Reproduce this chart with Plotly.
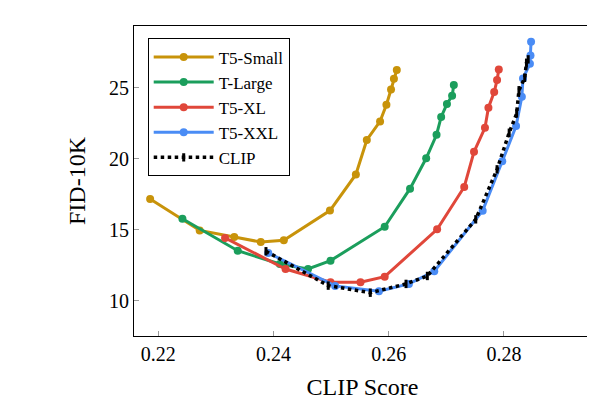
import plotly.graph_objects as go

small_x = [0.2186,0.2272,0.2332,0.2378,0.2418,0.2498,0.2543,0.2562,0.2585,0.2596,0.2604,0.2609,0.2614]
small_y = [17.16,14.95,14.48,14.13,14.25,16.35,18.89,21.32,22.63,23.80,24.88,25.63,26.25]
large_x = [0.2242,0.2338,0.2411,0.2460,0.2499,0.2593,0.2637,0.2665,0.2683,0.2691,0.2701,0.2710,0.2713]
large_y = [15.77,13.52,12.58,12.23,12.82,15.21,17.89,20.03,21.69,22.94,23.85,24.44,25.19]
xl_x = [0.2316,0.2421,0.2499,0.2551,0.2593,0.2684,0.2731,0.2748,0.2767,0.2773,0.2783,0.2788,0.2791]
xl_y = [14.42,12.23,11.30,11.30,11.69,15.03,18.01,20.49,22.18,23.59,24.70,25.54,26.29]
xxl_x = [0.2391,0.2507,0.2583,0.2635,0.2679,0.2763,0.2797,0.2821,0.2831,0.2833,0.2845,0.2846,0.2847]
xxl_y = [13.36,11.04,10.66,11.18,12.07,16.34,19.82,22.30,24.37,25.66,26.69,27.28,28.24]
clip_x = [0.2387,0.2495,0.2568,0.2630,0.2667,0.2751,0.2788,0.2809,0.2822,0.2826,0.2836,0.2839,0.2842]
clip_y = [13.48,11.06,10.56,11.18,11.74,15.73,19.25,21.83,23.19,24.82,25.70,26.76,27.00]

fig = go.Figure()
for name, xs, ys, c in [("T5-Small", small_x, small_y, "#C8930A"),
                        ("T-Large", large_x, large_y, "#1B9E5C"),
                        ("T5-XL", xl_x, xl_y, "#E0473A"),
                        ("T5-XXL", xxl_x, xxl_y, "#4A8CF5")]:
    fig.add_trace(go.Scatter(x=xs, y=ys, name=name, mode="lines+markers",
                             line=dict(color=c, width=3), marker=dict(color=c, size=8)))
fig.add_trace(go.Scatter(x=clip_x, y=clip_y, name="CLIP", mode="lines+markers",
                         line=dict(color="black", width=3.5, dash="dot"),
                         marker=dict(color="black", size=6, symbol="line-ns-open",
                                     line=dict(color="black", width=3))))

fig.update_layout(
    width=595, height=414, margin=dict(l=126, r=12, t=18, b=86, autoexpand=False),
    paper_bgcolor="white", plot_bgcolor="white",
    font=dict(family="Liberation Serif", color="black"),
    showlegend=True,
    legend=dict(x=0.03, y=0.96, xanchor="left", yanchor="top",
                bordercolor="black", borderwidth=1, bgcolor="white",
                font=dict(size=17, family="Liberation Serif"), itemwidth=60,
                entrywidth=120),
    xaxis=dict(range=[0.2158, 0.2951], tickvals=[0.22,0.24,0.26,0.28],
               ticktext=["0.22","0.24","0.26","0.28"], automargin=False,
               showgrid=False, zeroline=False, showline=True, mirror=True,
               linecolor="black", linewidth=1, ticks="inside", ticklen=5, tickcolor="#999",
               tickfont=dict(size=20), title=dict(text="CLIP Score", font=dict(size=24), standoff=14)),
    yaxis=dict(range=[7.51, 29.35], tickvals=[10,15,20,25], automargin=False,
               showgrid=False, zeroline=False, showline=True, mirror=True,
               linecolor="black", linewidth=1, ticks="inside", ticklen=5, tickcolor="#999",
               tickfont=dict(size=20), title=dict(text="FID-10K", font=dict(size=24), standoff=16)),
)
fig.write_html("out.html")
